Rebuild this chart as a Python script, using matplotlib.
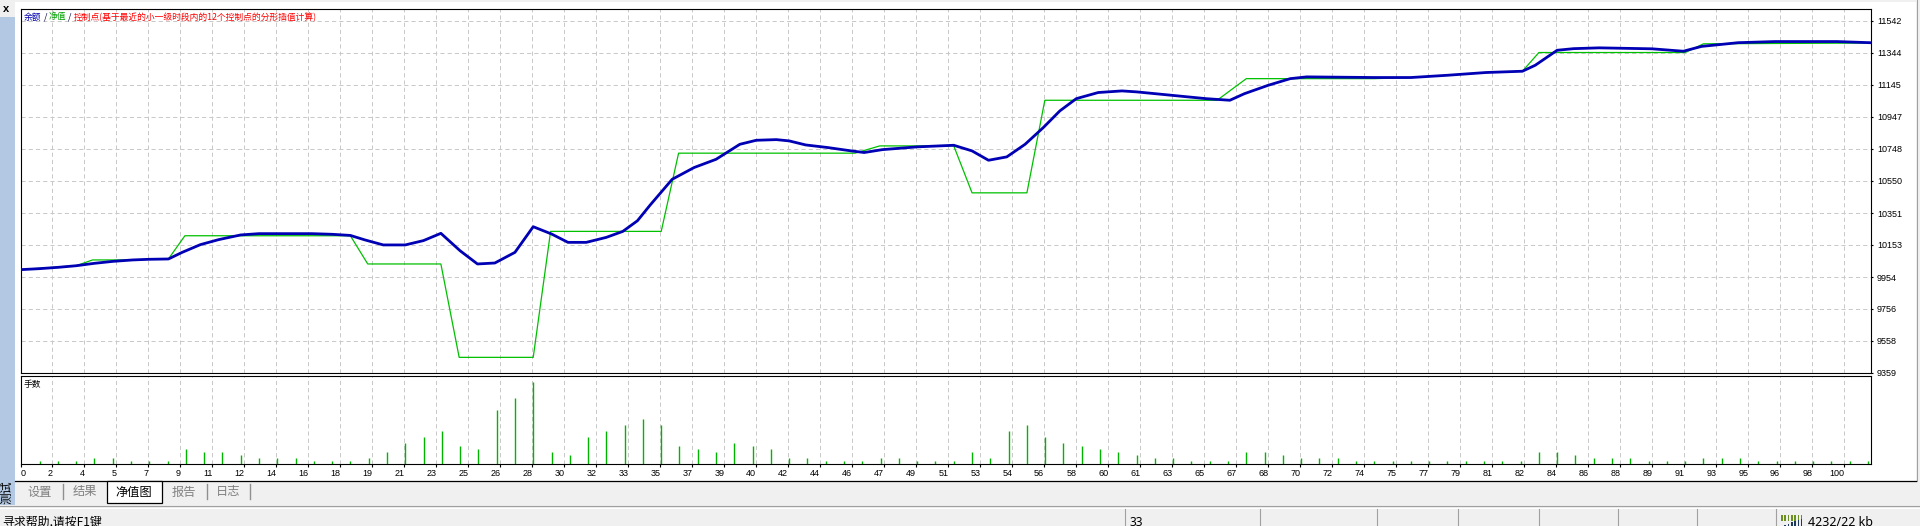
import numpy as np
import matplotlib
matplotlib.use("Agg")
from matplotlib import pyplot as plt
from matplotlib.patches import Rectangle
from matplotlib.lines import Line2D

plt.rcParams["font.family"] = "Liberation Sans"
plt.rcParams["lines.scale_dashes"] = False
CJK = ["Noto Sans CJK SC", "DejaVu Sans"]

# balance (blue) and equity (green), x = trade number
balance_x = [0, 1.0, 2.0, 3.0, 4.0, 5.0, 6.1, 7.0, 8.05, 8.8, 9.8, 10.8, 12.0, 13.0, 15.9,
             17.0, 18.0, 18.8, 19.8, 21.0, 22.0, 22.95, 24.0, 24.95, 25.9, 27.0, 28.0, 29.0,
             29.9, 30.9, 32.0, 32.9, 33.7, 34.4, 35.6, 36.8, 38.0, 39.3, 40.2, 41.3, 42.0,
             42.9, 44.1, 45.4, 46.1, 47.1, 49.0, 51.0, 52.0, 52.9, 53.9, 54.9, 55.9, 56.8,
             57.7, 58.9, 60.2, 61.0, 62.9, 64.8, 66.1, 66.9, 68.2, 69.4, 70.3, 74.0, 76.0,
             78.0, 80.1, 82.1, 82.8, 84.0, 84.9, 86.3, 89.2, 90.9, 91.9, 93.9, 95.9, 99.3, 101.1]
balance_y = [10000, 10006, 10014, 10024, 10039, 10051, 10060, 10064, 10066, 10107, 10155,
             10186, 10215, 10223, 10223, 10219, 10212, 10184, 10153, 10153, 10180, 10225,
             10117, 10035, 10041, 10107, 10266, 10221, 10169, 10169, 10200, 10237, 10303,
             10401, 10560, 10633, 10684, 10777, 10802, 10806, 10798, 10773, 10757, 10736,
             10726, 10744, 10761, 10771, 10736, 10678, 10699, 10777, 10881, 10984, 11060,
             11098, 11108, 11102, 11081, 11060, 11050, 11091, 11143, 11184, 11195, 11191,
             11191, 11205, 11222, 11230, 11267, 11360, 11370, 11375, 11369, 11354, 11384,
             11407, 11414, 11414, 11407]
equity_x = [0, 3.0, 3.9, 6.0, 7.0, 8.05, 8.95, 18.0, 18.95, 22.95, 23.95, 28.0, 28.95, 35.0,
            35.95, 45.6, 46.95, 51.0, 52.0, 55.0, 55.98, 65.4, 67.0, 74.0, 76.0, 78.0, 80.1,
            82.1, 83.0, 91.0, 92.0, 101.1]
equity_y = [10000, 10024, 10060, 10060, 10064, 10066, 10210, 10210, 10035, 10035, 9456, 9456,
            10237, 10237, 10722, 10722, 10767, 10767, 10476, 10476, 11050, 11050, 11184, 11184,
            11191, 11205, 11222, 11230, 11346, 11346, 11400, 11405]

# lots per trade (trades 1..101)
lots = [1, 1, 1, 2, 2, 1, 1, 1, 5, 4, 4, 3, 2, 2, 2, 1, 1, 1, 2, 4,
        7, 9, 11, 6, 5, 18, 22, 27, 4, 3, 9, 11, 13, 15, 13, 6, 5, 4, 7, 6,
        5, 2, 2, 1, 1, 1, 2, 2, 1, 1, 1, 4, 2, 11, 13, 9, 7, 6, 5, 4,
        3, 2, 2, 1, 1, 1, 4, 4, 3, 2, 2, 2, 1, 1, 1, 1, 1, 1, 1, 1,
        1, 1, 4, 4, 3, 2, 2, 2, 1, 1, 1, 2, 2, 2, 1, 1, 1, 1, 1, 1, 1]
trade_no = np.arange(1, len(lots) + 1)

y_ticks = [9359, 9558, 9756, 9954, 10153, 10351, 10550, 10748, 10947, 11145, 11344, 11542]
x_labels = ["2", "4", "5", "7", "9", "11", "12", "14", "16", "18", "19", "21", "23", "25",
            "26", "28", "30", "32", "33", "35", "37", "39", "40", "42", "44", "46", "47",
            "49", "51", "53", "54", "56", "58", "60", "61", "63", "65", "67", "68", "70",
            "72", "74", "75", "77", "79", "81", "82", "84", "86", "88", "89", "91", "93",
            "95", "96", "98", "100"]

title_parts = [("余额", "#0000B0"), (" / ", "#000040"), ("净值", "#00A000"), (" / ", "#000040"),
               ("控制点(基于最近的小一级时段内的12个控制点的分形插值计算)", "#FF0000")]
tabs = ["设置", "结果", "净值图", "报告", "日志"]
tab_x = [40, 84.5, 133.5, 184, 228.5]
active_tab = 2

W, H = 1920, 526
fig = plt.figure(figsize=(W / 100, H / 100), dpi=100, facecolor="#F0F0F0")


def box(x0, y0, x1, y1):
    return [x0 / W, 1 - y1 / H, (x1 - x0) / W, (y1 - y0) / H]


def pt(x, y):
    return x / W, 1 - y / H


def rect(x0, y0, x1, y1, fc, ec="none", lw=0, z=-2):
    b = box(x0, y0, x1, y1)
    fig.add_artist(Rectangle((b[0], b[1]), b[2], b[3], transform=fig.transFigure,
                             facecolor=fc, edgecolor=ec, linewidth=lw, zorder=z))


def hline(x0, x1, y, c, lw=0.75, z=-1):
    fig.add_artist(Line2D([x0 / W, x1 / W], [1 - y / H, 1 - y / H],
                          transform=fig.transFigure, color=c, linewidth=lw, zorder=z))


def vline(x, y0, y1, c, lw=0.75, z=-1):
    fig.add_artist(Line2D([x / W, x / W], [1 - y0 / H, 1 - y1 / H],
                          transform=fig.transFigure, color=c, linewidth=lw, zorder=z))


# window chrome
rect(15, 2, 1916, 481, "white")
rect(0, 17, 14.5, 505, "#B3C9E3")
vline(1916.5, 0, 481, "#A0A0A0")
fig.text(*pt(6, 9), "x", fontsize=8, fontweight="bold", ha="center", va="center")
fig.text(*pt(7, 492), "测试", family=CJK, fontsize=8.5, rotation=90, ha="center", va="center")

grid_step = 1.75
grid_u = 1.7 + grid_step * np.arange(len(x_labels))
xlim = (-0.03, 101.18)
grid_style = dict(color="#C8C8C8", linestyle=(0, (3, 2.2)), linewidth=0.7)

# equity chart
ax1 = fig.add_axes(box(20.7, 9.3, 1871.3, 373.0))
ax1.plot(equity_x, equity_y, color="#00C000", linewidth=0.9, zorder=3)
ax1.plot(balance_x, balance_y, color="#0000B4", linewidth=2.0, zorder=4,
         solid_joinstyle="round")
ax1.set_xlim(*xlim)
ax1.set_ylim(9359, 11614)
ax1.set_xticks(grid_u)
ax1.set_yticks(y_ticks)
ax1.yaxis.tick_right()
ax1.tick_params(axis="x", length=0, labelbottom=False)
ax1.tick_params(axis="y", length=1.5, pad=2.5, labelsize=6.5, direction="out")
ax1.grid(True, **grid_style)
for s in ax1.spines.values():
    s.set_linewidth(0.8)

# lots chart
ax2 = fig.add_axes(box(20.7, 375.8, 1871.3, 464))
ax2.vlines(trade_no, 0, lots, color="#00B400", linewidth=1.0, zorder=3)
ax2.set_xlim(*xlim)
ax2.set_ylim(0, 29.2)
ax2.set_yticks([])
ax2.set_xticks(np.concatenate([[xlim[0]], grid_u]))
ax2.set_xticklabels(["0"] + x_labels)
for i, lbl in enumerate(ax2.get_xticklabels()):
    lbl.set_ha("left" if i == 0 else "right")
ax2.tick_params(axis="x", length=2, pad=1.5, labelsize=6.5, direction="out")
ax2.grid(True, axis="x", **grid_style)
for s in ax2.spines.values():
    s.set_linewidth(0.8)
fig.text(*pt(24, 384), "手数", family=CJK, fontsize=6.3, va="center")

# title legend
renderer = fig.canvas.get_renderer()
xpos = 24
for s, c in title_parts:
    t = fig.text(*pt(xpos, 17), s, family=CJK, fontsize=6.3, color=c, va="center")
    xpos += t.get_window_extent(renderer).width

# tabs
hline(15, 1916, 481, "black", lw=0.9, z=-1)
rect(107, 481, 162, 503, "white", ec="black", lw=0.9, z=-0.5)
for i, (name, x) in enumerate(zip(tabs, tab_x)):
    fig.text(*pt(x, 492), name, family=CJK, fontsize=8.8, ha="center", va="center",
             color="black" if i == active_tab else "#808080")
for x in [63, 207, 250]:
    vline(x, 484, 499, "#909090", lw=1.0)

# status bar
hline(0, W, 506, "#A0A0A0", lw=0.8)
hline(0, W, 507.5, "white", lw=0.8)
for x in [1125, 1260, 1377, 1458, 1539, 1618, 1697, 1776]:
    vline(x, 509, 526, "#A0A0A0", lw=0.8)
fig.text(*pt(2, 516), "寻求帮助,请按F1键", family=CJK, fontsize=8.6, va="top")
fig.text(*pt(1130, 516), "33", family=["Noto Sans"], fontsize=8.6, va="top")
fig.text(*pt(1808, 516), "4232/22 kb", family=["Noto Sans"], fontsize=9, va="top")
for k in range(7):
    rect(1781 + 3.3 * k, 515, 1782.6 + 3.3 * k, 521, "#6B8E23", z=-1)
    rect(1781 + 3.3 * k, 526 - 1.2 * k, 1782.6 + 3.3 * k, 526, "#1F3A5F", z=-1)

fig.savefig("out.png", dpi=100, facecolor=fig.get_facecolor())
